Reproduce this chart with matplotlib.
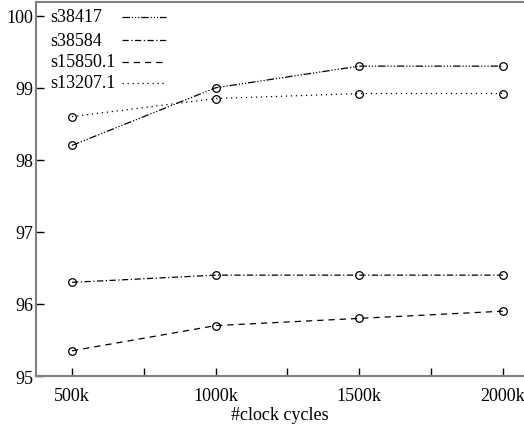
import matplotlib
matplotlib.use("Agg")
import matplotlib.pyplot as plt
from matplotlib.lines import Line2D

plt.rcParams['font.family'] = ['Liberation Serif', 'DejaVu Serif']

clock_cycles = [500, 1000, 1500, 2000]
tick_labels = ['500k', '1000k', '1500k', '2000k']
s38417 = [98.2, 99.0, 99.3, 99.3]
s38584 = [96.3, 96.4, 96.4, 96.4]
s15850_1 = [95.35, 95.7, 95.8, 95.9]
s13207_1 = [98.6, 98.85, 98.92, 98.92]

fig = plt.figure(figsize=(5.24, 4.27), dpi=100)
ax = fig.add_axes([0.069, 0.117, 0.929, 0.876])

styles = [
    ('s38417', s38417, (0, (6, 1.5, 1, 1.5, 1, 1.5, 1, 1.5))),
    ('s38584', s38584, (0, (5, 2, 1, 2))),
    ('s15850.1', s15850_1, (0, (5, 4))),
    ('s13207.1', s13207_1, (0, (1, 3))),
]
for name, vals, ls in styles:
    ax.plot(clock_cycles, vals, color='black', lw=0.9, linestyle=ls,
            marker='o', markersize=5.5, markerfacecolor='none',
            markeredgecolor='black', markeredgewidth=0.9)

# legend drawn manually (labels left-aligned, line samples on the right)
fig_w, fig_h = 524.0, 427.0
row_y = [18, 41, 63, 84]
for (name, vals, ls), yp in zip(styles, row_y):
    fy = 1 - yp / fig_h
    fig.text(50 / fig_w, fy, name, fontsize=13, ha='left', va='center')
    fig.add_artist(Line2D([122 / fig_w, 166 / fig_w], [fy, fy],
                          transform=fig.transFigure, color='black',
                          lw=0.9, linestyle=ls))

ax.set_xlim(375, 2070)
ax.set_ylim(95, 100.19)
ax.set_xticks(clock_cycles)
ax.set_xticklabels(tick_labels)
ax.set_xticks([750, 1250, 1750], minor=True)
ax.set_yticks([95, 96, 97, 98, 99, 100])
ax.set_yticklabels(['95', '96', '97', '98', '99', '100'])
ax.tick_params(axis='both', which='both', direction='in', length=6,
               width=1, labelsize=13, color='black')
ax.tick_params(axis='x', pad=8)
ax.tick_params(axis='y', pad=2)
ax.tick_params(right=False, top=False)
for s in ax.spines.values():
    s.set_color('#808080')
    s.set_linewidth(1.5)
ax.spines['right'].set_visible(False)

ax.set_xlabel('#clock cycles', fontsize=13, labelpad=1.5)

fig.savefig('out.png', dpi=100)
